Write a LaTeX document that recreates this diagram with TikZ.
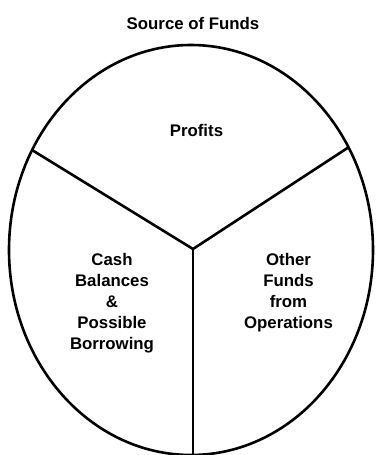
\documentclass[tikz,border=0pt]{standalone}
\usepackage{fontspec}
\setmainfont{Liberation Sans}
\begin{document}
\begin{tikzpicture}[x=1pt,y=-1pt,
  lbl/.style={font=\bfseries\fontsize{16.8}{21}\selectfont, align=center, inner sep=0pt},
  rim/.style={line width=2.6pt},
  divider/.style={line width=2.6pt, line join=miter}]
\useasboundingbox (0,0) rectangle (376,455);
\node[lbl] (title) at (193,23) {Source of Funds};
\draw[rim] (191,250) ellipse [x radius=182, y radius=205];
\coordinate (hub) at (193,249);
\coordinate (leftend) at (32,150);
\coordinate (rightend) at (349,147);
\coordinate (bottomend) at (193,460);
\draw[divider] (leftend) -- (hub) -- (rightend);
\draw[divider] (hub) -- (bottomend);
\node[lbl] (profits) at (196.5,130) {Profits};
\node[lbl, anchor=north] (cash) at (112,253) {Cash\\Balances\\\&\\Possible\\Borrowing};
\node[lbl, anchor=north] (other) at (288.5,253) {Other\\Funds\\from\\Operations};
\end{tikzpicture}
\end{document}
